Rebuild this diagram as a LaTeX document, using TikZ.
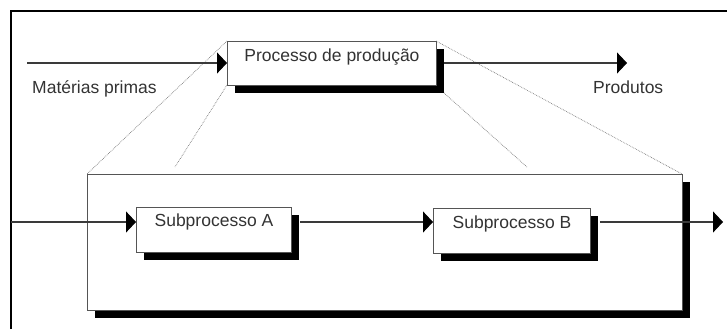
\documentclass[tikz,border=0pt]{standalone}
\usepackage{fontspec}
\setmainfont{Liberation Sans}
\usetikzlibrary{arrows.meta,shadows}
\definecolor{txtgray}{HTML}{333333}
\definecolor{boxgray}{HTML}{555555}
\definecolor{linegray}{HTML}{3A3A3A}
\definecolor{zoomgray}{HTML}{7A7A7A}
\begin{document}
\begin{tikzpicture}[x=1pt,y=-1pt,
  txt/.style={font=\fontsize{17.5}{21}\selectfont, text=txtgray},
  procbox/.style={draw=boxgray, line width=0.9pt, fill=white, inner sep=0pt, anchor=north west, txt,
    drop shadow={shadow xshift=8pt, shadow yshift=-8pt, fill=black, opacity=1}},
  flow/.style={draw=linegray, line width=1.1pt, -{Triangle[length=10pt,width=21pt,fill=black,color=black]}},
  zoomline/.style={draw=zoomgray, line width=0.7pt, densely dotted},
  framestyle/.style={draw=black, line width=1.6pt}]
\useasboundingbox (0,0) rectangle (727,329);
% outer frame
\coordinate (fBL) at (11,329);
\coordinate (fTL) at (11,11);
\coordinate (fTR) at (727,11);
\draw[framestyle] (fBL) -- (fTL) -- (fTR);
% zoom lines (behind boxes)
\coordinate (pNW) at (227,41);
\coordinate (bigNW) at (87,174);
\coordinate (bigNE) at (682,174);
\coordinate (z2) at (175,167);
\coordinate (z3) at (527,167);
\coordinate (pNE) at (436,41);
\coordinate (pSW) at (227,85);
\coordinate (pSE) at (444,93);
\draw[zoomline] (pNW) -- (bigNW);
\draw[zoomline] (pSW) -- (z2);
\draw[zoomline] (pSE) -- (z3);
\draw[zoomline] (pNE) -- (bigNE);
% boxes
\node[procbox, minimum width=209pt, text height=20.3pt, text depth=23.7pt] (proc) at (227,41) {Processo de produção};
\node[procbox, minimum width=595pt, minimum height=136pt] (big) at (87,174) {};
\node[procbox, minimum width=155pt, text height=19.3pt, text depth=25.7pt] (subA) at (136,207) {Subprocesso A};
\node[procbox, minimum width=157pt, text height=20.3pt, text depth=24.7pt] (subB) at (433,208) {Subprocesso B};
% labels
\node[txt, anchor=base west, inner sep=0pt] (mp) at (32,93.3) {Matérias primas};
\node[txt, anchor=base west, inner sep=0pt] (prod) at (593,93.3) {Produtos};
% top flow
\coordinate (inL) at (27,63);
\coordinate (outR) at (627,63);
\coordinate (pOut) at (444,63);
\draw[flow] (inL) -- (inL -| proc.west);
\draw[flow] (pOut) -- (outR);
% bottom flow
\coordinate (binL) at (11,222);
\coordinate (aOut) at (300,222);
\coordinate (bOut) at (600,222);
\coordinate (boutR) at (723,222);
\draw[flow] (binL) -- (binL -| subA.west);
\draw[flow] (aOut) -- (aOut -| subB.west);
\draw[flow] (bOut) -- (boutR);
\end{tikzpicture}
\end{document}
